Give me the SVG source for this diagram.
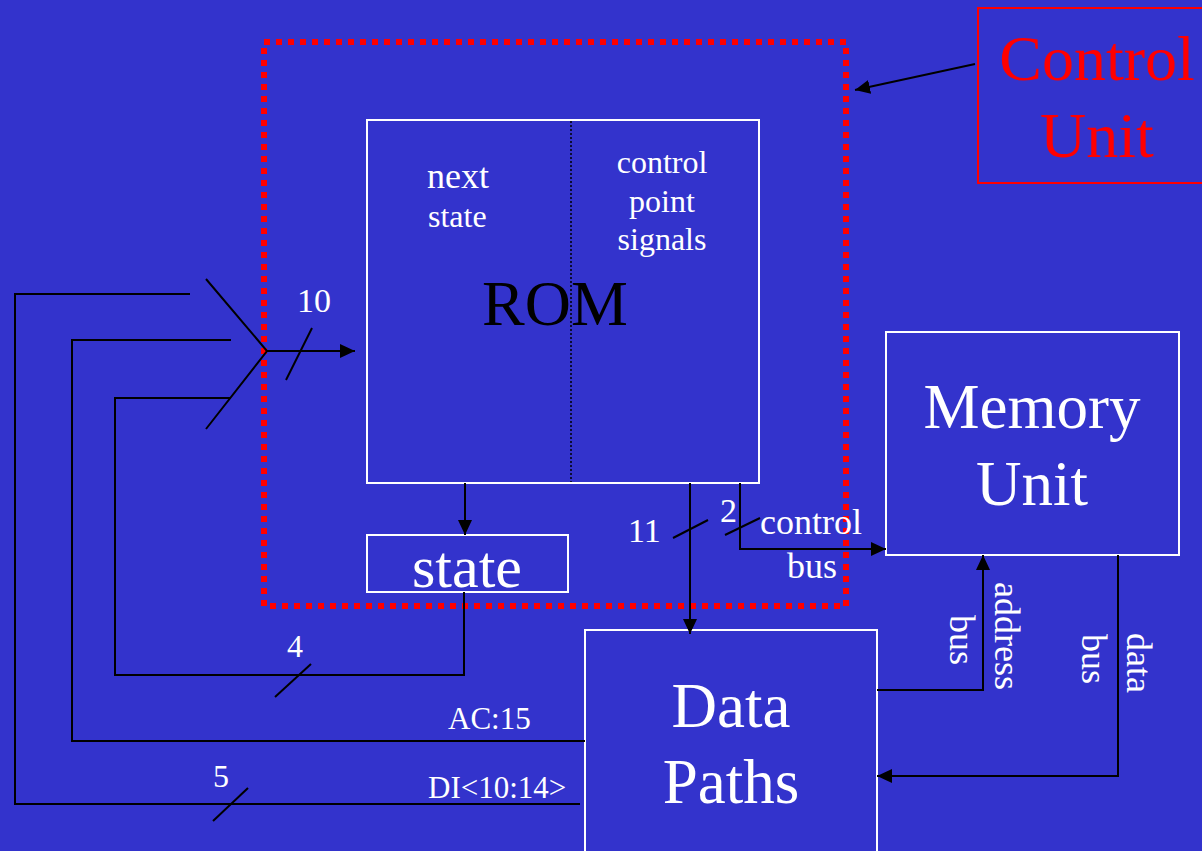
<svg xmlns="http://www.w3.org/2000/svg" width="1202" height="851" viewBox="0 0 1202 851">
<defs>
<marker id="ah" markerUnits="userSpaceOnUse" markerWidth="16" markerHeight="14" refX="15" refY="7" orient="auto"><path d="M0,0 L15,7 L0,14 z" fill="#000"/></marker>
<style>
text{font-family:"Liberation Serif","Times New Roman",serif;}
.w{fill:#fff;}
.box{fill:none;stroke:#fff;stroke-width:2;}
.ln{fill:none;stroke:#000;stroke-width:2;}
.arr{fill:none;stroke:#000;stroke-width:2;marker-end:url(#ah);}
</style>
</defs>
<rect x="0" y="0" width="1202" height="851" fill="#3333CC"/>

<g id="control-region">
<rect x="264" y="42" width="582" height="564" fill="none" stroke="#FF0000" stroke-width="6" stroke-dasharray="6 6"/>
</g>

<g id="control-unit-label">
<rect x="978" y="8" width="240" height="175" fill="none" stroke="#FF0000" stroke-width="2"/>
<text x="1097" y="80" font-size="64" fill="#FF0000" text-anchor="middle">Control</text>
<text x="1097" y="157" font-size="64" fill="#FF0000" text-anchor="middle">Unit</text>
</g>

<g id="rom">
<rect class="box" x="367" y="120" width="392" height="363"/>
<line x1="571" y1="121" x2="571" y2="482" stroke="#000" stroke-width="1.5" stroke-dasharray="2 2"/>
<text class="w" x="427" y="188" font-size="36">next</text>
<text class="w" x="428" y="227" font-size="32">state</text>
<text class="w" x="662" y="173" font-size="32" text-anchor="middle">control</text>
<text class="w" x="662" y="212" font-size="32" text-anchor="middle">point</text>
<text class="w" x="662" y="250" font-size="32" text-anchor="middle">signals</text>
<text x="555" y="325" font-size="64" fill="#000" text-anchor="middle">ROM</text>
</g>

<g id="state">
<rect class="box" x="367" y="535" width="201" height="57"/>
<text class="w" x="467" y="587" font-size="60" text-anchor="middle">state</text>
</g>

<g id="memory-unit">
<rect class="box" x="886" y="332" width="293" height="223"/>
<text class="w" x="1032" y="428" font-size="63" text-anchor="middle">Memory</text>
<text class="w" x="1032" y="505" font-size="63" text-anchor="middle">Unit</text>
</g>

<g id="data-paths">
<rect class="box" x="585" y="630" width="292" height="240"/>
<text class="w" x="731" y="727" font-size="63" text-anchor="middle">Data</text>
<text class="w" x="731" y="803" font-size="63" text-anchor="middle">Paths</text>
</g>

<g id="connectors">
<line class="arr" x1="975" y1="64" x2="855" y2="90"/>
<polyline class="ln" points="190,294 15,294 15,804 580,804"/>
<polyline class="ln" points="231,340 72,340 72,741 585,741"/>
<polyline class="ln" points="231,398 115,398 115,675 464,675 464,592"/>
<polyline class="ln" points="206,279 267,351 206,429"/>
<line class="arr" x1="267" y1="351" x2="355" y2="351"/>
<line class="ln" x1="286" y1="380" x2="312" y2="328"/>
<line class="arr" x1="465" y1="483" x2="465" y2="535"/>
<line class="arr" x1="690" y1="483" x2="690" y2="634"/>
<line class="ln" x1="673" y1="538" x2="708" y2="520"/>
<polyline class="arr" points="740,483 740,549 886,549"/>
<line class="ln" x1="725" y1="535" x2="760" y2="518"/>
<polyline class="arr" points="877,690 983,690 983,555"/>
<polyline class="arr" points="1118,555 1118,776 877,776"/>
<line class="ln" x1="275" y1="697" x2="311" y2="664"/>
<line class="ln" x1="213" y1="821" x2="248" y2="788"/>
</g>

<g id="labels">
<text class="w" x="297" y="312" font-size="34">10</text>
<text class="w" x="628" y="542" font-size="34">11</text>
<text class="w" x="720" y="522" font-size="34">2</text>
<text class="w" x="760" y="534" font-size="36">control</text>
<text class="w" x="787" y="578" font-size="36">bus</text>
<text class="w" x="287" y="657" font-size="32">4</text>
<text class="w" x="213" y="787" font-size="32">5</text>
<text class="w" x="448" y="729" font-size="31">AC:15</text>
<text class="w" x="428" y="798" font-size="31">DI&lt;10:14&gt;</text>
<text class="w" font-size="36" transform="translate(995,582) rotate(90)">address</text>
<text class="w" font-size="36" transform="translate(950,615) rotate(90)">bus</text>
<text class="w" font-size="36" transform="translate(1127,633) rotate(90)">data</text>
<text class="w" font-size="36" transform="translate(1082,634) rotate(90)">bus</text>
</g>
</svg>
